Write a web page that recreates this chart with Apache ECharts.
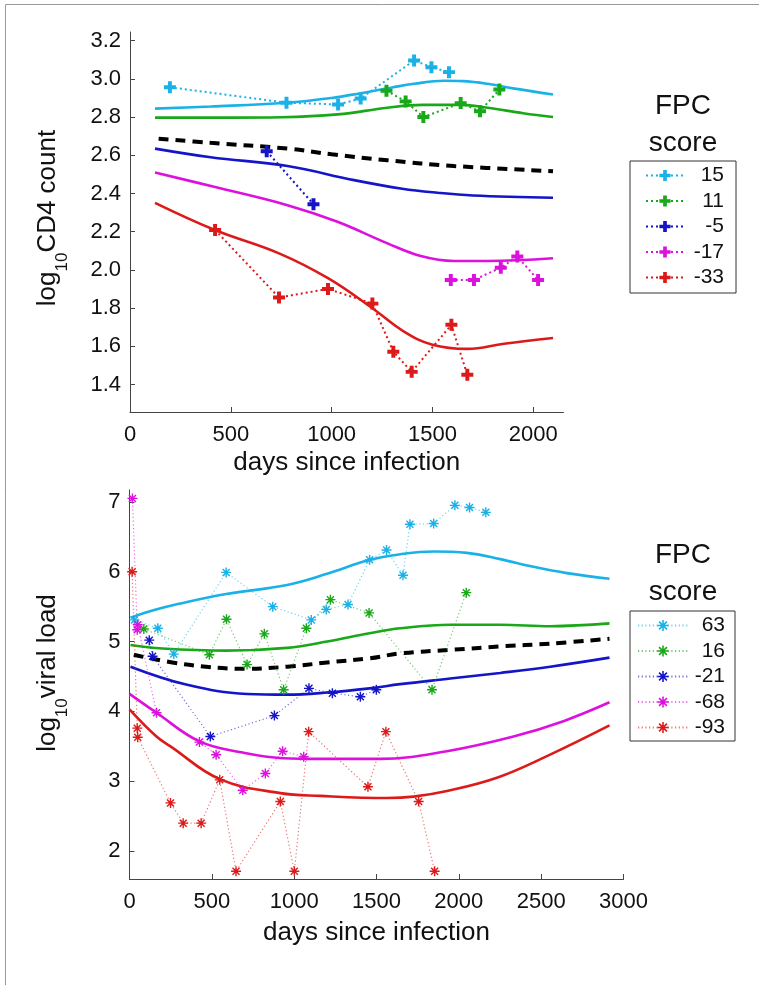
<!DOCTYPE html>
<html><head><meta charset="utf-8">
<script src="https://cdn.jsdelivr.net/npm/echarts@6/dist/echarts.min.js"></script>
<style>html,body{margin:0;padding:0;background:#fff}#c{width:759px;height:985px}</style>
</head><body><div id="c"></div>
<script>
// ---------- TOP PANEL: log10 CD4 count ----------
const cd4Scores = ['15', '11', '-5', '-17', '-33'];
const cd4Ticks = [1.4, 1.6, 1.8, 2.0, 2.2, 2.4, 2.6, 2.8, 3.0, 3.2];
const cd4DayTicks = [0, 500, 1000, 1500, 2000];
const cd4Obs15 = [[198,2.956],[776,2.875],[1032,2.866],[1144,2.897],[1409,3.096],[1495,3.061],[1582,3.035]];
const cd4Obs11 = [[1272,2.938],[1367,2.882],[1455,2.80],[1640,2.873],[1736,2.830],[1832,2.944]];
const cd4ObsM5 = [[678,2.621],[910,2.344]];
const cd4ObsM17 = [[1591,1.948],[1706,1.948],[1839,2.012],[1921,2.07],[2024,1.948]];
const cd4ObsM33 = [[422,2.209],[739,1.856],[982,1.901],[1202,1.824],[1306,1.572],[1397,1.467],[1594,1.713],[1673,1.452]];
const cd4Fit15 = [[124,2.844],[400,2.855],[776,2.875],[1000,2.90],[1144,2.925],[1300,2.955],[1409,2.974],[1556,2.99],[1650,2.988],[1773,2.974],[1900,2.95],[2098,2.918]];
const cd4Fit11 = [[124,2.797],[500,2.797],[750,2.799],[1030,2.814],[1277,2.849],[1450,2.864],[1640,2.864],[1773,2.849],[1950,2.82],[2098,2.80]];
const cd4FitM5 = [[124,2.635],[400,2.59],[781,2.544],[1111,2.47],[1350,2.425],[1525,2.404],[1700,2.39],[2098,2.378]];
const cd4FitM17 = [[124,2.51],[417,2.435],[781,2.339],[1029,2.252],[1277,2.139],[1442,2.073],[1607,2.047],[1773,2.047],[2098,2.061]];
const cd4FitM33 = [[124,2.351],[421,2.209],[739,2.087],[982,1.957],[1202,1.80],[1359,1.678],[1500,1.609],[1673,1.587],[1855,1.614],[2098,1.644]];
const cd4Mean = [[142,2.687],[400,2.665],[781,2.635],[1000,2.605],[1277,2.574],[1607,2.544],[2098,2.517]];

// ---------- BOTTOM PANEL: log10 viral load ----------
const vlScores = ['63', '16', '-21', '-68', '-93'];
const vlTicks = [2, 3, 4, 5, 6, 7];
const vlDayTicks = [0, 500, 1000, 1500, 2000, 2500, 3000];
const vlObs63 = [[30,5.31],[172,5.19],[269,4.82],[587,5.99],[870,5.5],[1104,5.31],[1195,5.46],[1327,5.53],[1458,6.17],[1561,6.31],[1661,5.95],[1703,6.68],[1847,6.69],[1976,6.95],[2065,6.92],[2164,6.85]];
const vlObs16 = [[87,5.18],[485,4.81],[589,5.32],[714,4.67],[819,5.11],[936,4.31],[1074,5.19],[1220,5.6],[1455,5.41],[1837,4.31],[2045,5.7]];
const vlObsM21 = [[120,5.02],[140,4.79],[491,3.64],[880,3.94],[1090,4.33],[1232,4.26],[1402,4.21],[1499,4.31]];
const vlObsM68 = [[18,7.05],[47,5.17],[50,5.24],[164,3.98],[425,3.56],[526,3.38],[688,2.87],[825,3.11],[930,3.43],[1058,3.35]];
const vlObsM93 = [[16,6.0],[47,3.76],[50,3.63],[249,2.69],[326,2.40],[435,2.40],[548,3.02],[647,1.71],[916,2.71],[1001,1.71],[1088,3.71],[1448,2.92],[1557,3.71],[1756,2.71],[1853,1.71]];
const vlFit63 = [[6,5.34],[150,5.45],[300,5.54],[587,5.68],[957,5.81],[1200,5.97],[1458,6.17],[1644,6.25],[1847,6.29],[2049,6.27],[2251,6.18],[2453,6.07],[2656,5.98],[2915,5.9]];
const vlFit16 = [[6,4.95],[200,4.90],[587,4.87],[957,4.91],[1200,5.0],[1458,5.12],[1644,5.19],[1948,5.24],[2251,5.24],[2555,5.22],[2915,5.26]];
const vlFitM21 = [[6,4.64],[350,4.38],[714,4.25],[957,4.24],[1200,4.27],[1458,4.33],[1644,4.39],[1948,4.47],[2251,4.55],[2555,4.64],[2915,4.77]];
const vlFitM68 = [[0,4.25],[164,3.98],[425,3.57],[688,3.41],[930,3.33],[1159,3.32],[1523,3.32],[1928,3.43],[2332,3.64],[2635,3.86],[2915,4.13]];
const vlFitM93 = [[0,4.03],[164,3.64],[249,3.5],[548,3.03],[916,2.83],[1159,2.79],[1564,2.76],[1725,2.78],[1928,2.86],[2231,3.05],[2535,3.36],[2915,3.8]];
const vlMean = [[26,4.81],[350,4.67],[714,4.61],[957,4.64],[1200,4.70],[1458,4.76],[1644,4.83],[1948,4.88],[2251,4.93],[2555,4.97],[2915,5.04]];

// ---------- styling ----------
const FONT = "'Liberation Sans', Arial, sans-serif";
const COLORS = ['#1ab2e6', '#18a818', '#1414c8', '#dd11dd', '#dd1a1a'];
const PLUS = 'path://M-3.3,-10 L3.3,-10 L3.3,-3.3 L10,-3.3 L10,3.3 L3.3,3.3 L3.3,10 L-3.3,10 L-3.3,3.3 L-10,3.3 L-10,-3.3 L-3.3,-3.3 Z';
const STAR = 'path://M-10,-1.4 L10,-1.4 L10,1.4 L-10,1.4 Z M-1.4,-10 L1.4,-10 L1.4,10 L-1.4,10 Z M-6,-8 L8,6 L6,8 L-8,-6 Z M-6,8 L-8,6 L6,-8 L8,-6 Z';

function obs(name, data, color, gi, top) {
  return {
    type: 'line', name: name, data: data, xAxisIndex: gi, yAxisIndex: gi,
    symbol: top ? PLUS : STAR, symbolSize: top ? 12 : 10, showSymbol: true,
    itemStyle: { color: color, opacity: 1 },
    lineStyle: top ? { color: color, width: 2, type: [2, 3] } : { color: color, width: 1.2, type: [1.2, 2.5], opacity: 0.6 },
    z: 3, silent: true
  };
}
function fit(name, data, color, gi) {
  return {
    type: 'line', name: name, data: data, xAxisIndex: gi, yAxisIndex: gi,
    smooth: 0.4, showSymbol: false, symbol: 'none',
    lineStyle: { color: color, width: 2.6 }, z: 2, silent: true
  };
}
function mean(name, data, gi) {
  return {
    type: 'line', name: name, data: data, xAxisIndex: gi, yAxisIndex: gi,
    smooth: 0.4, showSymbol: false, symbol: 'none',
    lineStyle: { color: '#000', width: 4, type: [10, 7] }, z: 2, silent: true
  };
}

const cd4ObsAll = [cd4Obs15, cd4Obs11, cd4ObsM5, cd4ObsM17, cd4ObsM33];
const cd4FitAll = [cd4Fit15, cd4Fit11, cd4FitM5, cd4FitM17, cd4FitM33];
const vlObsAll = [vlObs63, vlObs16, vlObsM21, vlObsM68, vlObsM93];
const vlFitAll = [vlFit63, vlFit16, vlFitM21, vlFitM68, vlFitM93];

const series = [];
cd4Scores.forEach((s, i) => series.push(fit('cd4fit' + i, cd4FitAll[i], COLORS[i], 0)));
series.push(mean('cd4mean', cd4Mean, 0));
cd4Scores.forEach((s, i) => series.push(obs(s, cd4ObsAll[i], COLORS[i], 0, true)));
vlScores.forEach((s, i) => series.push(fit('vlfit' + i, vlFitAll[i], COLORS[i], 1)));
series.push(mean('vlmean', vlMean, 1));
vlScores.forEach((s, i) => series.push(obs(s, vlObsAll[i], COLORS[i], 1, false)));

function xAxis(gi, max, ticks, gap) {
  return {
    gridIndex: gi, type: 'value', min: 0, max: max,
    axisLine: { show: true, lineStyle: { color: '#444', width: 1 } },
    axisTick: { show: true, inside: true, length: 5, customValues: ticks, lineStyle: { color: '#444' } },
    axisLabel: { customValues: ticks, fontSize: 22, color: '#111', fontFamily: FONT, margin: 12, formatter: v => String(v) },
    splitLine: { show: false },
    name: 'days since infection', nameLocation: 'middle', nameGap: gap,
    nameTextStyle: { fontSize: 26, color: '#111', fontFamily: FONT }
  };
}
function yAxis(gi, min, max, ticks, fmt) {
  return {
    gridIndex: gi, type: 'value', min: min, max: max,
    axisLine: { show: true, lineStyle: { color: '#444', width: 1 } },
    axisTick: { show: true, inside: true, length: 5, customValues: ticks, lineStyle: { color: '#444' } },
    axisLabel: { customValues: ticks, fontSize: 22, color: '#111', fontFamily: FONT, margin: 9, formatter: fmt },
    splitLine: { show: false }
  };
}

function legend(data, top, iw, pad, w) {
  return {
    data: data, orient: 'vertical', left: 630, top: top,
    itemWidth: iw, itemHeight: 14, itemGap: 4.5, padding: pad,
    borderColor: '#333', borderWidth: 1, backgroundColor: '#fff',
    selectedMode: false,
    formatter: n => '{r|' + n + '}',
    textStyle: { fontSize: 21, color: '#111', fontFamily: FONT, rich: { r: { width: w, align: 'right', fontSize: 21, fontFamily: FONT, color: '#111' } } }
  };
}

function ytitle(x, y, main) {
  return {
    type: 'text', x: x, y: y, rotation: Math.PI / 2, silent: true,
    style: {
      text: '{a|log}{b|10}{a|' + main + '}', align: 'center', verticalAlign: 'middle', fill: '#111',
      rich: { a: { fontSize: 26, lineHeight: 46, fontFamily: FONT, fill: '#111' }, b: { fontSize: 17, verticalAlign: 'bottom', fontFamily: FONT, fill: '#111' } }
    }
  };
}
function ctext(x, y, t) {
  return { type: 'text', x: x, y: y, silent: true, style: { text: t, align: 'center', verticalAlign: 'middle', fontSize: 28, fontFamily: FONT, fill: '#111' } };
}

const chart = echarts.init(document.getElementById('c'), null, { renderer: 'canvas' });
chart.setOption({
  animation: false,
  backgroundColor: '#fff',
  grid: [
    { left: 130, top: 32, width: 433.5, height: 380, containLabel: false },
    { left: 129.5, top: 490, width: 494, height: 389, containLabel: false }
  ],
  xAxis: [xAxis(0, 2150, cd4DayTicks, 38), xAxis(1, 3000, vlDayTicks, 41)],
  yAxis: [
    yAxis(0, 1.257, 3.245, cd4Ticks, v => Number(v).toFixed(1)),
    yAxis(1, 1.6, 7.17, vlTicks, v => String(Math.round(v)))
  ],
  legend: [
    legend(cd4Scores, 161, 38, [4, 12, 5, 15], 35),
    legend(vlScores, 611, 50, [4, 10, 3, 7], 32)
  ],
  graphic: [
    { type: 'line', silent: true, shape: { x1: 5.5, y1: 4.5, x2: 759, y2: 4.5 }, style: { stroke: '#999', lineWidth: 1 } },
    { type: 'line', silent: true, shape: { x1: 5.5, y1: 4.5, x2: 5.5, y2: 985 }, style: { stroke: '#999', lineWidth: 1 } },
    ytitle(48, 218, 'CD4 count'),
    ytitle(48, 673, 'viral load'),
    ctext(683, 106, 'FPC'), ctext(683, 143, 'score'),
    ctext(683, 555, 'FPC'), ctext(683, 592, 'score')
  ],
  series: series
});
</script></body></html>
